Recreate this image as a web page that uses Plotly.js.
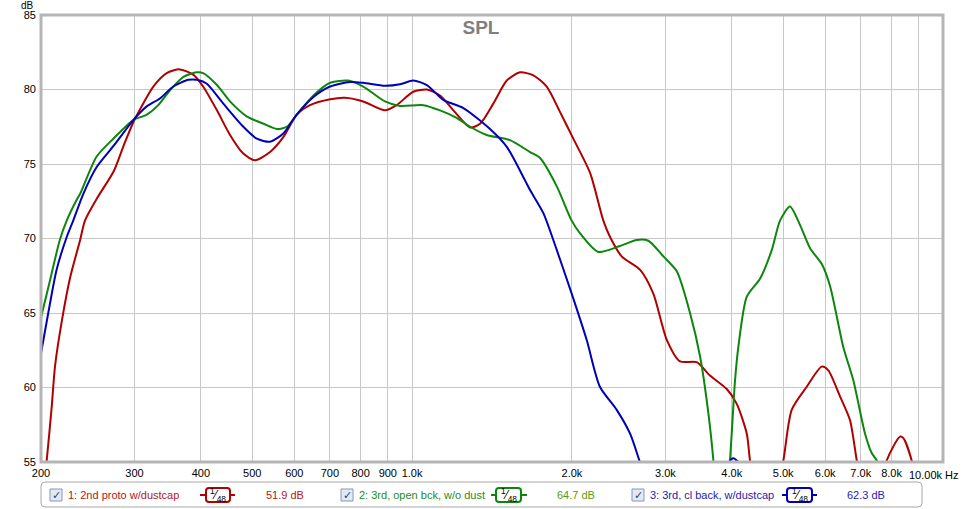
<!DOCTYPE html>
<html>
<head>
<meta charset="utf-8">
<script src="https://cdn.plot.ly/plotly-3.0.1.min.js"></script>
<style>html,body{margin:0;padding:0;background:#fff;}#chart{width:963px;height:509px;}</style>
</head>
<body>
<div id="chart"></div>
<script>
// ---------- data ----------
const redName = "1: 2nd proto w/dustcap";
const greenName = "2: 3rd, open bck, w/o dust";
const blueName = "3: 3rd, cl back, w/dustcap";
const redValueText = "51.9 dB";
const greenValueText = "64.7 dB";
const blueValueText = "62.3 dB";

const redF = [200,205,209.5,212.5,219,227,237,242,255,274,286,298.5,312,325.5,345,365,387,404,429,454,481,506,540,572,606,642,701,748,809,889,935,1005,1066,1129,1196,1286,1343,1422,1508,1597,1692,1793,1899,2012,2164,2292,2360,2482,2689,2847,3018,3197,3436,3640,3915,4088,4270,4330,4622,5004,5188,5538,5909,6081,6397,6681,6880,7319,7834,8300,8420,8730,9248];
const redDB = [51.9,55.1,58.7,61.4,64.5,67.4,69.9,71.2,72.7,74.5,76.2,77.8,79.1,80.2,81.1,81.35,81.0,80.2,78.6,76.95,75.7,75.25,75.8,76.8,78.3,78.95,79.35,79.45,79.2,78.6,78.95,79.85,80.0,79.6,78.6,77.45,77.7,79.05,80.6,81.15,80.95,80.2,78.5,76.7,74.4,71.2,70.1,68.8,67.9,66.3,63.2,61.75,61.7,60.8,59.9,58.9,56.9,55.1,49,55.1,58.5,60.05,61.4,61.15,59.4,57.8,55.1,50,55.1,56.7,56.6,55.1,50];

const greenF = [200,208,217,223.6,233.5,237,254.6,273.7,298.5,316,332.6,350,371,393,404,429,454,488,525,556,581,606,652,701,758,809,889,949,1050,1129,1213,1286,1382,1529,1668,1742,1873,1998,2072,2242,2464,2650,2786,2974,3152,3338,3486,3614,3694,3820,3970,4058,4116,4270,4522,4756,4932,5150,5380,5618,5909,6128,6491,6776,7131,7341,7502,7946];
const greenDB = [64.7,67.2,69.9,71.2,72.6,73.0,75.5,76.7,77.95,78.3,78.95,79.95,80.85,81.15,81.1,80.3,79.2,78.2,77.7,77.35,77.5,78.3,79.6,80.45,80.6,80.2,79.2,78.9,78.95,78.6,78.1,77.5,76.95,76.6,75.8,75.4,73.5,71.2,70.35,69.1,69.5,69.9,69.85,68.8,67.8,65.0,62.1,58.3,55.1,48,55.1,60.5,62.7,66.1,67.3,69.2,71.2,72.15,70.9,69.35,68.3,66.8,62.7,60.5,56.9,55.6,55.1,52];

const blueF = [200,206.4,214,223.6,230,240.3,254.6,273.7,298.5,316,335,355,379,393,410,441,481,510,540,572,606,652,701,764,809,889,949,1005,1066,1145,1249,1402,1508,1632,1668,1767,1845,1998,2132,2258,2429,2574,2680,2931,3486,3936,4027,4129,4522];
const blueDB = [62.3,65.0,67.9,70.1,71.2,73.0,74.8,76.2,77.95,78.85,79.4,80.2,80.65,80.65,80.4,79.05,77.5,76.7,76.5,77.05,78.3,79.5,80.2,80.5,80.45,80.25,80.35,80.6,80.3,79.3,78.75,77.35,76.15,73.9,73.25,71.7,69.9,66.3,63.2,60.05,58.5,56.9,55.1,51,49,54.9,55.25,54.9,50];

const xTickVals = [200,300,400,500,600,700,800,900,1000,2000,3000,4000,5000,6000,7000,8000,9000];
const xTickText = ["200","300","400","500","600","700","800","900","1.0k","2.0k","3.0k","4.0k","5.0k","6.0k","7.0k","8.0k",""];
const yTickVals = [55,60,65,70,75,80,85];

// ---------- style ----------
const FONT = "Liberation Sans, Arial, sans-serif";
const RED = "#b00000", GREEN = "#0d860d", BLUE = "#0000b8";
const W = 963, H = 509;
const L = 41, R = 943, T = 15, B = 462;
const px = v => (v - L) / (R - L);
const py = v => (B - v) / (B - T);

function roundRect(x0, y0, x1, y1, r) {
  const rx = r / (R - L), ry = r / (B - T);
  const a = px(x0), b = px(x1), c = py(y0), d = py(y1); // c top, d bottom
  return `M${a+rx},${c} L${b-rx},${c} Q${b},${c} ${b},${c-ry} L${b},${d+ry} Q${b},${d} ${b-rx},${d} L${a+rx},${d} Q${a},${d} ${a},${d+ry} L${a},${c-ry} Q${a},${c} ${a+rx},${c} Z`;
}

const traces = [
  {x: redF, y: redDB, name: redName, color: RED},
  {x: greenF, y: greenDB, name: greenName, color: GREEN},
  {x: blueF, y: blueDB, name: blueName, color: BLUE}
].map(s => ({
  type: "scatter", mode: "lines", x: s.x, y: s.y, name: s.name,
  line: {color: s.color, width: 2, shape: "spline", smoothing: 0.7},
  hoverinfo: "x+y+name"
}));

const shapes = [];
const annotations = [];

// plot frame
shapes.push({type: "rect", xref: "paper", yref: "paper", x0: 0, x1: 1, y0: 0, y1: 1,
  line: {color: "#b5b5b5", width: 3}, fillcolor: "rgba(0,0,0,0)", layer: "above"});

// legend box
shapes.push({type: "path", xref: "paper", yref: "paper", path: roundRect(41, 482, 922, 507, 4),
  line: {color: "#a8a8a8", width: 1}, fillcolor: "#ffffff"});

const legendItems = [
  {name: redName, value: redValueText, color: RED, valColor: "#b01818", textColor: "#b01818",
   cb: 50, tx: 66, stub0: 200, box0: 206, box1: 230, stub1: 235, vx: 264},
  {name: greenName, value: greenValueText, color: GREEN, valColor: "#5d9a0c", textColor: "#1e8c1e",
   cb: 341, tx: 357, stub0: 491, box0: 496, box1: 521, stub1: 527, vx: 555},
  {name: blueName, value: blueValueText, color: BLUE, valColor: "#2323b0", textColor: "#2323a8",
   cb: 632, tx: 648, stub0: 782, box0: 787, box1: 812, stub1: 817, vx: 845}
];
const LY = 495;
legendItems.forEach(it => {
  // checkbox
  shapes.push({type: "rect", xref: "paper", yref: "paper",
    x0: px(it.cb), x1: px(it.cb + 12), y0: py(489), y1: py(501),
    line: {color: "#8497b8", width: 1}, fillcolor: "#e3e9f3"});
  annotations.push({xref: "paper", yref: "paper", x: px(it.cb + 6.5), y: py(LY), text: "✓",
    showarrow: false, xanchor: "center", yanchor: "middle",
    font: {family: "DejaVu Sans", size: 11, color: "#2c3f7a"}});
  // name
  annotations.push({xref: "paper", yref: "paper", x: px(it.tx), y: py(LY), text: it.name,
    showarrow: false, xanchor: "left", yanchor: "middle",
    font: {family: FONT, size: 11, color: it.textColor}});
  // smoothing badge
  shapes.push({type: "line", xref: "paper", yref: "paper", x0: px(it.stub0), x1: px(it.box0), y0: py(LY), y1: py(LY),
    line: {color: it.color, width: 2}});
  shapes.push({type: "line", xref: "paper", yref: "paper", x0: px(it.box1), x1: px(it.stub1), y0: py(LY), y1: py(LY),
    line: {color: it.color, width: 2}});
  shapes.push({type: "path", xref: "paper", yref: "paper", path: roundRect(it.box0, 488, it.box1, 502, 3),
    line: {color: it.color, width: 2}, fillcolor: "#ffffff"});
  annotations.push({xref: "paper", yref: "paper", x: px((it.box0 + it.box1) / 2), y: py(LY), text: "<sup>1</sup>⁄<sub>48</sub>",
    showarrow: false, xanchor: "center", yanchor: "middle",
    font: {family: FONT, size: 12, color: "#000000"}});
  // value
  annotations.push({xref: "paper", yref: "paper", x: px(it.vx), y: py(LY), text: it.value,
    showarrow: false, xanchor: "left", yanchor: "middle",
    font: {family: FONT, size: 11, color: it.valColor}});
});

// axis unit labels
annotations.push({xref: "paper", yref: "paper", x: px(36), y: py(5.5), text: "dB",
  showarrow: false, xanchor: "right", yanchor: "middle", font: {family: FONT, size: 10, color: "#000"}});
annotations.push({xref: "paper", yref: "paper", x: px(961), y: py(475), text: "10.00k Hz",
  showarrow: false, xanchor: "right", yanchor: "middle", font: {family: FONT, size: 11, color: "#000"}});

const layout = {
  width: W, height: H,
  margin: {l: L, r: W - R, t: T, b: H - B, pad: 0},
  paper_bgcolor: "#ffffff", plot_bgcolor: "#ffffff",
  showlegend: false,
  title: {text: "SPL", x: 481 / W, xref: "container", xanchor: "center",
    y: 1 - 27 / H, yref: "container", yanchor: "middle",
    font: {family: FONT, size: 19, color: "#7f7f7f", weight: "bold"}},
  xaxis: {type: "log", range: [Math.log10(200), 4], tickmode: "array",
    tickvals: xTickVals, ticktext: xTickText, showgrid: true, gridcolor: "#c8c8c8", gridwidth: 1,
    zeroline: false, showline: false, ticks: "", tickfont: {family: FONT, size: 11, color: "#000"},
    ticklabelstandoff: 3, fixedrange: true},
  yaxis: {range: [55, 85], tickmode: "array", tickvals: yTickVals, showgrid: true,
    gridcolor: "#c8c8c8", gridwidth: 1, zeroline: false, showline: false, ticks: "",
    tickfont: {family: FONT, size: 11, color: "#000"}, ticklabelstandoff: 4, fixedrange: true},
  shapes: shapes,
  annotations: annotations,
  font: {family: FONT}
};

Plotly.newPlot("chart", traces, layout, {displayModeBar: false, staticPlot: true});
</script>
</body>
</html>
